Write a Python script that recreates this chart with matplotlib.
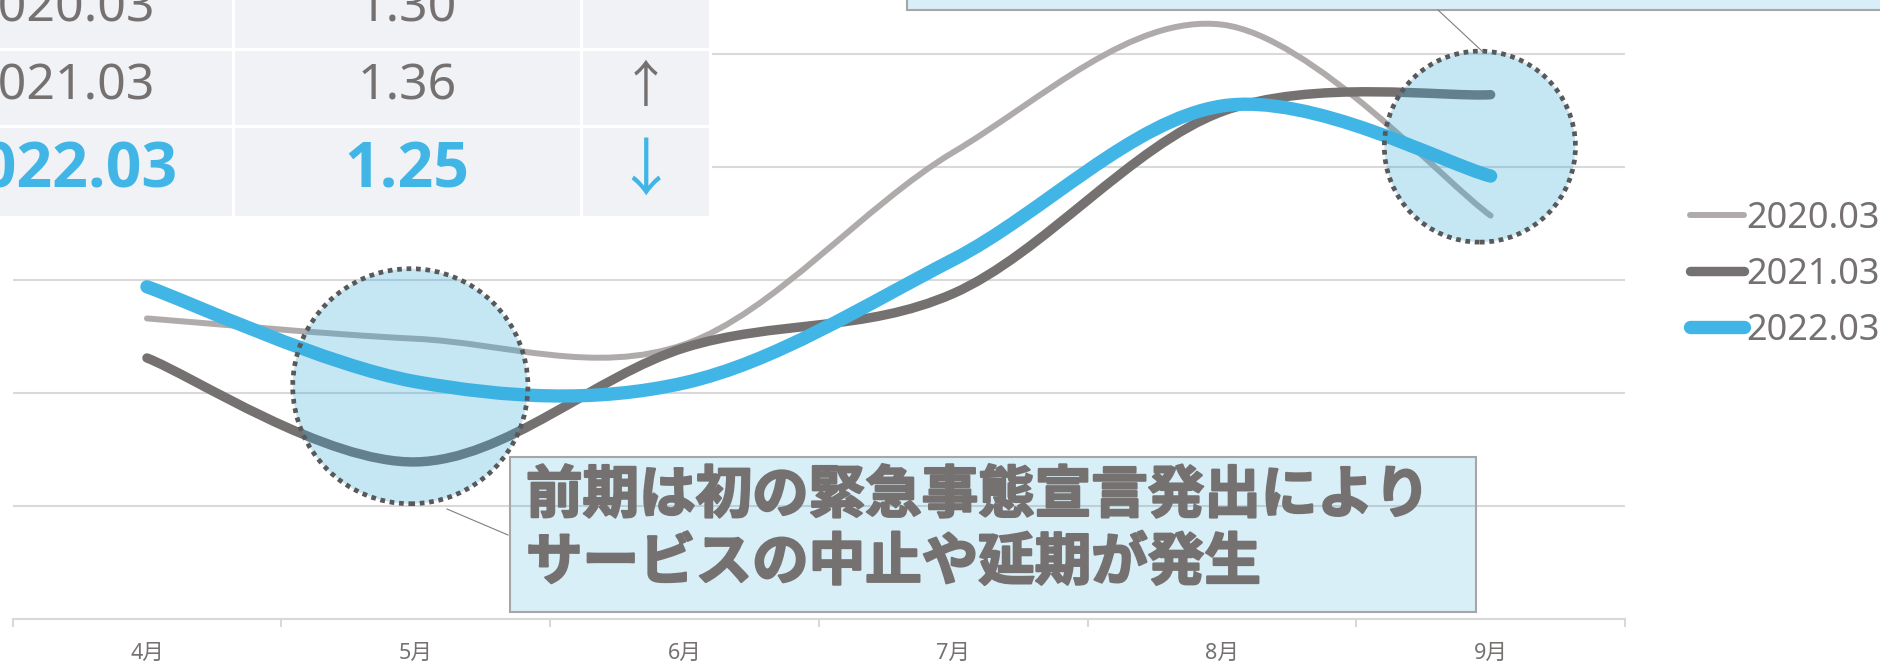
import numpy as np
import matplotlib
matplotlib.use("Agg")
import matplotlib.pyplot as plt
import matplotlib.patheffects as pe
from matplotlib.path import Path
from matplotlib.patches import PathPatch, Ellipse, Rectangle
from matplotlib.lines import Line2D

plt.rcParams['font.family'] = ['Noto Sans', 'Noto Sans CJK JP', 'DejaVu Sans']

# データ
months = ['4月', '5月', '6月', '7月', '8月', '9月']
series_names = ['2020.03', '2021.03', '2022.03']
v2020 = [1.166, 1.148, 1.143, 1.313, 1.426, 1.257]
v2021 = [1.131, 1.039, 1.140, 1.188, 1.349, 1.364]
v2022 = [1.194, 1.110, 1.109, 1.218, 1.354, 1.292]

table_years = ['2020.03', '2021.03', '2022.03']
table_values = ['1.30', '1.36', '1.25']
table_arrows = ['', '↑', '↓']

note_low = '前期は初の緊急事態宣言発出により\nサービスの中止や延期が発生'

GRAY_L = '#AFABAB'
GRAY_D = '#767171'
BLUE = '#41B6E6'
GRID = '#D9D9D9'
TXT = '#767171'


def smooth_path(xs, ys):
    # Excel風のスムージング線 (ベジェ曲線)
    pts = np.column_stack([xs, ys]).astype(float)
    n = len(pts)
    verts = [pts[0]]
    codes = [Path.MOVETO]
    for i in range(n - 1):
        p0 = pts[max(i - 1, 0)]
        p1 = pts[i]
        p2 = pts[i + 1]
        p3 = pts[min(i + 2, n - 1)]
        verts += [p1 + (p2 - p0) / 6, p2 - (p3 - p1) / 6, p2]
        codes += [Path.CURVE4] * 3
    return Path(verts, codes)


W, H = 1881, 667
fig = plt.figure(figsize=(W / 100, H / 100), dpi=100)

# プロット領域 (上部は画像の外にはみ出す)
left_px, right_px, bottom_px, top_px = 12.6, 1625, 619, -59
ax = fig.add_axes([left_px / W, (H - bottom_px) / H,
                   (right_px - left_px) / W, (bottom_px - top_px) / H])
ax.set_xlim(-0.5, 5.5)
ax.set_ylim(0.9, 1.5)
ax.set_yticks(np.arange(0.9, 1.51, 0.1))
ax.yaxis.grid(True, color=GRID, lw=1.5)
ax.set_axisbelow(True)
ax.tick_params(axis='y', left=False, labelleft=False)
for s in ['top', 'left', 'right']:
    ax.spines[s].set_visible(False)
ax.spines['bottom'].set_color(GRID)
ax.spines['bottom'].set_linewidth(1.5)

x = np.arange(len(months))
ax.set_xticks(x)
ax.set_xticklabels(months, fontsize=15.5, color=TXT)
ax.tick_params(axis='x', which='major', length=0, pad=17)
ax.set_xticks(np.arange(-0.5, 5.6, 1), minor=True)
ax.tick_params(axis='x', which='minor', length=6, width=1.5, color=GRID)

styles = [(v2020, GRAY_L, 4.3), (v2021, GRAY_D, 6.8), (v2022, BLUE, 9.6)]
handles = []
for i, (vals, col, lw) in enumerate(styles):
    ax.add_patch(PathPatch(smooth_path(x, vals), fill=False, edgecolor=col,
                           lw=lw, capstyle='round', joinstyle='round', zorder=3 + i))
    handles.append(Line2D([], [], color=col, lw=lw, solid_capstyle='round'))

# 強調の円
circ_fill = (48 / 255, 169 / 255, 219 / 255, 0.28)
for cx, cy, w, h in [(1 - 0.02, 1.106, 0.875, 0.208), (4.96, 1.318, 0.711, 0.169)]:
    ax.add_patch(Ellipse((cx, cy), w, h, facecolor=circ_fill, edgecolor='none', zorder=8))
    ax.add_patch(Ellipse((cx, cy), w, h, facecolor='none', edgecolor='#595959',
                         lw=3.4, linestyle=(0, (1, 1)), zorder=9))

# 重ね描き用 (ピクセル座標)
ov = fig.add_axes([0, 0, 1, 1], zorder=5)
ov.set_xlim(0, W)
ov.set_ylim(H, 0)
ov.axis('off')

box_fill = (48 / 255, 169 / 255, 219 / 255, 0.18)
ov.add_patch(Rectangle((510, 457), 966, 155, facecolor=box_fill, edgecolor='#A6A6A6', lw=1.5))
ov.add_patch(Rectangle((907, -100), 1100, 110, facecolor=box_fill, edgecolor='#A6A6A6', lw=1.5))
ov.plot([447, 508], [509, 535], color='#7F7F7F', lw=0.8)
ov.plot([1438, 1483], [10, 52], color='#7F7F7F', lw=0.8)
ov.text(526, 529, note_low, fontsize=40.7, fontweight='bold', color=TXT,
        family=['Noto Sans CJK JP'], va='center', ha='left', linespacing=1.2,
        path_effects=[pe.withStroke(linewidth=1.6, foreground=TXT)])

# 左上の表
col_edges = [-113, 233, 581, 710]
row_edges = [-28, 49, 126, 217]
for r in range(3):
    for c in range(3):
        ov.add_patch(Rectangle((col_edges[c], row_edges[r]),
                               col_edges[c + 1] - col_edges[c], row_edges[r + 1] - row_edges[r],
                               facecolor='#F0F2F5', edgecolor='white', lw=2.2))
baselines = [22, 100, 187]
for r in range(3):
    bold = r == 2
    col = BLUE if bold else TXT
    fs = 45 if bold else 36
    fam = ['Open Sans', 'DejaVu Sans'] if bold else ['Noto Sans', 'DejaVu Sans']
    fw = 'bold' if bold else 'normal'
    ov.text(62, baselines[r], table_years[r], fontsize=fs, fontweight=fw, color=col,
            family=fam, ha='center', va='baseline')
    ov.text(407, baselines[r], table_values[r], fontsize=fs, fontweight=fw, color=col,
            family=fam, ha='center', va='baseline')
    if table_arrows[r]:
        ov.text(646, (row_edges[r] + row_edges[r + 1]) / 2, table_arrows[r], fontsize=fs,
                color=col, family=['Noto Sans CJK JP'], ha='center', va='center')

# 凡例
ov.legend(handles, series_names, loc='upper left', bbox_to_anchor=(1690, 201),
          bbox_transform=ov.transData, frameon=False, fontsize=26, labelcolor=TXT,
          handlelength=1.5, handletextpad=0.06, labelspacing=0.55, borderpad=0,
          borderaxespad=0)

fig.savefig('out.png', dpi=100)
